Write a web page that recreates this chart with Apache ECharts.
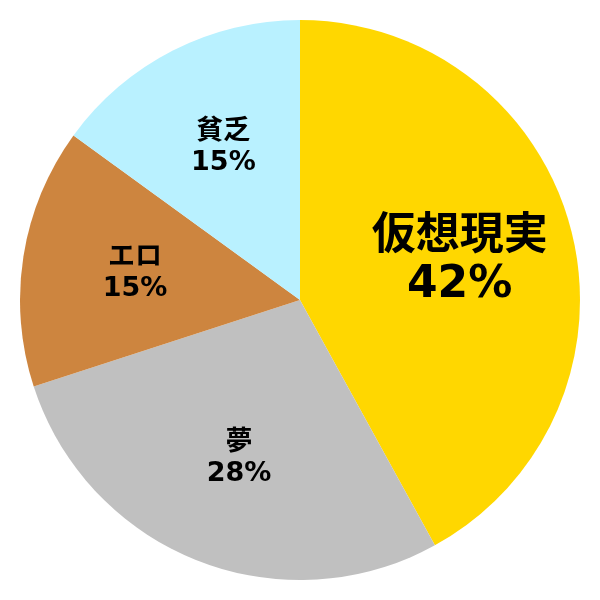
<!DOCTYPE html>
<html><head><meta charset="utf-8">
<script src="https://cdn.jsdelivr.net/npm/echarts@6/dist/echarts.min.js"></script>
<style>html,body{margin:0;padding:0;background:#fff}#c{width:600px;height:600px}</style>
</head><body><div id="c"></div>
<script>
const categories = ['仮想現実', '夢', 'エロ', '貧乏'];
const values = [42, 28, 15, 15];
const colors = ['#FFD700', '#C0C0C0', '#CD853F', '#B9F1FF'];
const bigLabel = [true, false, false, false];

const chart = echarts.init(document.getElementById('c'), null, {renderer: 'canvas'});
const font = "'DejaVu Sans', 'Noto Sans CJK JP', sans-serif";
const offsets = [[-6, 4], [2, -1], [4, 0], [1, 0]];
const base = categories.map((n, i) => ({name: n, value: values[i], itemStyle: {color: colors[i]}}));
const labelData = categories.map((n, i) => ({
  name: n, value: values[i],
  label: Object.assign(bigLabel[i] ? {fontSize: 44, lineHeight: 48} : {fontSize: 27, lineHeight: 31}, {offset: offsets[i]})
}));
chart.setOption({
  animation: false,
  series: [
    {type: 'pie', center: [300, 300], radius: [0, 280], startAngle: 90, clockwise: true,
     label: {show: false}, labelLine: {show: false}, silent: true, data: base},
    {type: 'pie', center: [300, 300], radius: [56, 280], startAngle: 90, clockwise: true,
     silent: true, itemStyle: {color: 'rgba(0,0,0,0)'},
     labelLine: {show: false},
     label: {show: true, position: 'inside', color: '#000', fontWeight: 'bold', fontFamily: font,
       formatter: p => p.name + '\n' + p.value + '%'},
     data: labelData}
  ]
});
</script></body></html>
